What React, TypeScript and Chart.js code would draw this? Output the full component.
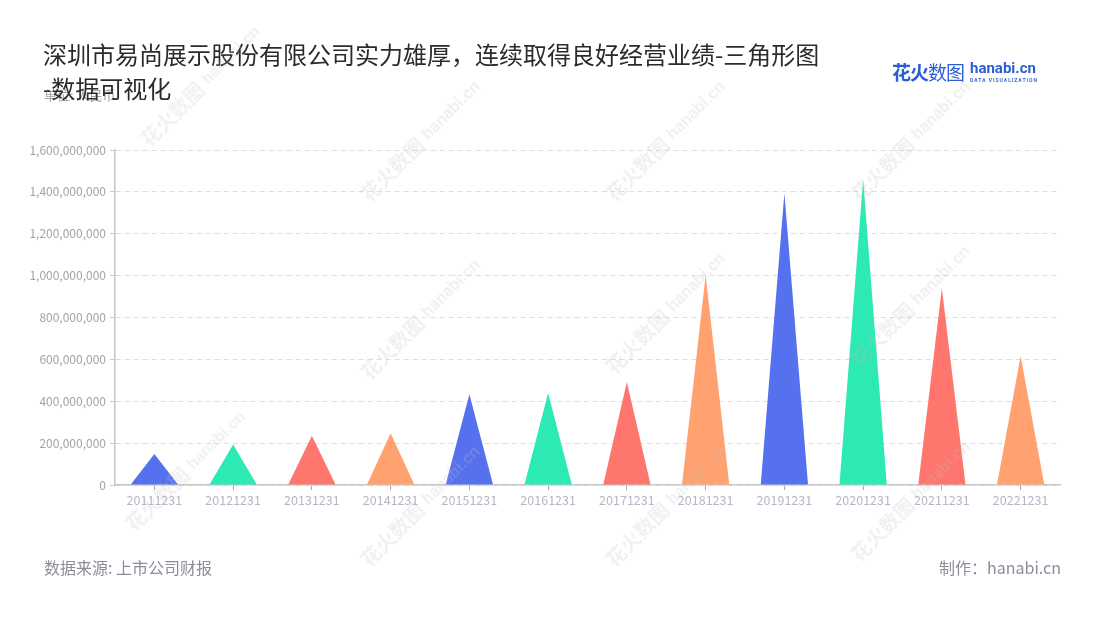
import React, { useEffect, useRef } from "react";
import { Chart, registerables } from "chart.js";

Chart.register(...registerables);

const categories = [
  "20111231", "20121231", "20131231", "20141231", "20151231", "20161231",
  "20171231", "20181231", "20191231", "20201231", "20211231", "20221231",
];
const revenue = [
  148000000, 194000000, 235000000, 247000000, 433000000, 439000000,
  492000000, 1002000000, 1393000000, 1460000000, 940000000, 616000000,
];
const palette = ["#5671ee", "#2de9b3", "#ff766f", "#ffa26f"];
const yTicksMax = 1600000000;
const yStep = 200000000;

const titleLine1 = "深圳市易尚展示股份有限公司实力雄厚，连续取得良好经营业绩-三角形图";
const titleLine2 = "-数据可视化";
const unitText = "单位: 人民币";
const sourceText = "数据来源: 上市公司财报";
const makerText = "制作：hanabi.cn";

const watermarkSpots: [number, number][] = [
  [200, 85], [420, 140], [665, 140], [910, 140],
  [420, 318], [665, 312], [910, 305],
  [185, 470], [420, 505], [665, 505], [910, 500],
];

const CJK = '"Noto Sans CJK SC", "Noto Sans", sans-serif';

const trianglePlugin = {
  id: "triangles",
  afterDatasetsDraw(chart: any) {
    const ctx = chart.ctx;
    chart.data.datasets.forEach((ds: any, di: number) => {
      const meta = chart.getDatasetMeta(di);
      meta.data.forEach((el: any, i: number) => {
        const p = el.getProps(["x", "y", "base", "width"], true);
        ctx.save();
        ctx.fillStyle = palette[i % palette.length];
        ctx.beginPath();
        ctx.moveTo(p.x - p.width / 2, p.base);
        ctx.lineTo(p.x, p.y);
        ctx.lineTo(p.x + p.width / 2, p.base);
        ctx.closePath();
        ctx.fill();
        ctx.restore();
      });
    });
  },
};

function Watermark({ x, y }: { x: number; y: number }) {
  return (
    <div
      style={{
        position: "absolute",
        left: x - 80,
        top: y - 14,
        width: 160,
        height: 28,
        transform: "rotate(-45deg)",
        display: "flex",
        alignItems: "center",
        justifyContent: "center",
        color: "rgba(190,190,190,0.22)",
        fontFamily: CJK,
        pointerEvents: "none",
        whiteSpace: "nowrap",
      }}
    >
      <span style={{ fontSize: 20, fontWeight: 700 }}>花火数图</span>
      <span style={{ fontSize: 17, fontWeight: 700, marginLeft: 6, fontFamily: "Roboto, sans-serif" }}>hanabi.cn</span>
    </div>
  );
}

export default function App() {
  const canvasRef = useRef<HTMLCanvasElement | null>(null);

  useEffect(() => {
    if (!canvasRef.current) return;
    const chart = new Chart(canvasRef.current, {
      type: "bar",
      data: {
        labels: categories,
        datasets: [
          {
            data: revenue,
            backgroundColor: "rgba(0,0,0,0)",
            borderWidth: 0,
            categoryPercentage: 0.8,
            barPercentage: 0.75,
          },
        ],
      },
      options: {
        animation: false,
        responsive: false,
        maintainAspectRatio: false,
        layout: { padding: { left: 0, right: 40, top: 150, bottom: 0 } },
        plugins: { legend: { display: false }, tooltip: { enabled: false }, title: { display: false } },
        scales: {
          x: {
            offset: true,
            grid: {
              display: true,
              offset: false,
              drawOnChartArea: false,
              drawTicks: true,
              tickLength: 5,
              tickColor: "#aaaaaa",
              color: "#cccccc",
            },
            border: { display: true, color: "#c8c8c8", width: 1.6 },
            ticks: {
              color: "#b3b8c6",
              font: { family: CJK, size: 12.5 },
              padding: 3,
              maxRotation: 0,
              autoSkip: false,
            },
            afterFit: (scale: any) => {
              scale.height = 135;
            },
          },
          y: {
            min: 0,
            max: yTicksMax,
            ticks: {
              stepSize: yStep,
              color: "#a3a3a3",
              font: { family: CJK, size: 12 },
              padding: 4,
              callback: (v: any) => Number(v).toLocaleString("en-US"),
            },
            grid: {
              color: "#dedede",
              lineWidth: 1,
              drawTicks: true,
              tickLength: 5,
              tickColor: "#c8c8c8",
            },
            border: { display: true, color: "#c8c8c8", width: 1.6, dash: [5, 4] },
            afterFit: (scale: any) => {
              scale.width = 115;
            },
          },
        },
      },
      plugins: [trianglePlugin],
    } as any);
    return () => chart.destroy();
  }, []);

  return (
    <div
      style={{
        position: "fixed",
        left: 0,
        top: 0,
        width: 1100,
        height: 620,
        background: "#ffffff",
        overflow: "hidden",
      }}
    >
      <canvas ref={canvasRef} width={1100} height={620} style={{ position: "absolute", left: 0, top: 0, width: 1100, height: 620 }} />
      <div
        style={{
          position: "absolute",
          left: 44,
          top: 80,
          fontFamily: CJK,
          fontSize: 13,
          color: "#a3a3a3",
          lineHeight: "30px",
        }}
      >
        {unitText}
      </div>
      <div
        style={{
          position: "absolute",
          left: 43,
          top: 37,
          fontFamily: CJK,
          fontSize: 24,
          color: "#2b2b2b",
          lineHeight: "34px",
          whiteSpace: "nowrap",
        }}
      >
        <div>{titleLine1}</div>
        <div>{titleLine2}</div>
      </div>
      <div
        style={{
          position: "absolute",
          left: 892,
          top: 58,
          display: "flex",
          alignItems: "center",
          color: "#2b5dd6",
          whiteSpace: "nowrap",
        }}
      >
        <span style={{ fontFamily: CJK, fontSize: 19, fontWeight: 700, letterSpacing: -1 }}>花火</span>
        <span style={{ fontFamily: CJK, fontSize: 19, fontWeight: 400, letterSpacing: -1 }}>数图</span>
        <div style={{ marginLeft: 6, display: "flex", flexDirection: "column", lineHeight: 1 }}>
          <span style={{ fontFamily: "Roboto, sans-serif", fontSize: 15, fontWeight: 700, color: "#2b5dd6" }}>hanabi.cn</span>
          <span style={{ fontFamily: "Roboto, sans-serif", fontSize: 5, fontWeight: 700, color: "#3a66d8", letterSpacing: 1, marginTop: 2 }}>
            DATA VISUALIZATION
          </span>
        </div>
      </div>
      {watermarkSpots.map(([x, y], i) => (
        <Watermark key={i} x={x} y={y} />
      ))}
      <div
        style={{
          position: "absolute",
          left: 44,
          top: 553,
          fontFamily: CJK,
          fontSize: 16,
          color: "#8c8c9c",
          lineHeight: "28px",
        }}
      >
        {sourceText}
      </div>
      <div
        style={{
          position: "absolute",
          right: 39,
          top: 553,
          fontFamily: CJK,
          fontSize: 16,
          color: "#8c8c9c",
          lineHeight: "28px",
        }}
      >
        {makerText}
      </div>
    </div>
  );
}
